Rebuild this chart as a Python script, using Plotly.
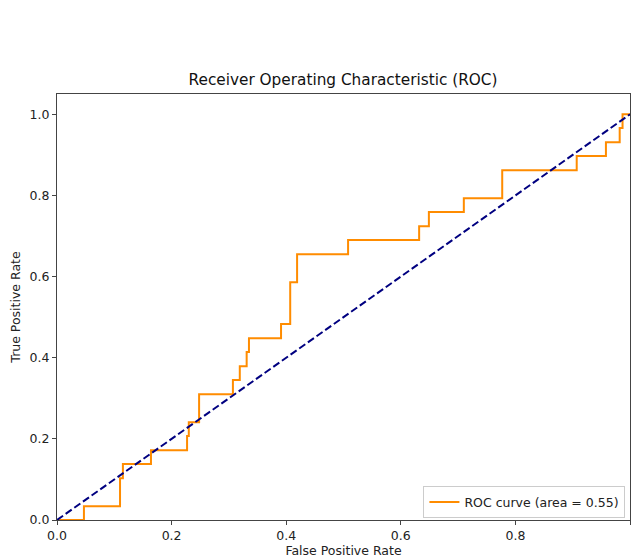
import plotly.graph_objects as go

fpr = [0.0, 0.047, 0.047, 0.110, 0.110, 0.115, 0.115, 0.164, 0.164, 0.227, 0.227, 0.230, 0.230,
       0.248, 0.248, 0.307, 0.307, 0.319, 0.319, 0.331, 0.331, 0.335, 0.335, 0.391, 0.391,
       0.407, 0.407, 0.419, 0.419, 0.508, 0.508, 0.632, 0.632, 0.649, 0.649, 0.710, 0.710,
       0.777, 0.777, 0.907, 0.907, 0.958, 0.958, 0.982, 0.982, 0.987, 0.987, 1.0]
tpr = [0.0, 0.0, 0.034, 0.034, 0.103, 0.103, 0.138, 0.138, 0.172, 0.172, 0.207, 0.207, 0.241,
       0.241, 0.310, 0.310, 0.345, 0.345, 0.379, 0.379, 0.414, 0.414, 0.448, 0.448, 0.483,
       0.483, 0.586, 0.586, 0.655, 0.655, 0.690, 0.690, 0.724, 0.724, 0.759, 0.759, 0.793,
       0.793, 0.862, 0.862, 0.897, 0.897, 0.931, 0.931, 0.966, 0.966, 1.0, 1.0]
roc_auc = 0.55
diag = [0.0, 1.0]
tick_vals = [0.0, 0.2, 0.4, 0.6, 0.8, 1.0]
tick_text = ["0.0", "0.2", "0.4", "0.6", "0.8", "1.0"]

fig = go.Figure()
fig.add_trace(go.Scatter(x=fpr, y=tpr, mode="lines",
                         line=dict(color="darkorange", width=2),
                         name=f"ROC curve (area = {roc_auc:.2f})"))
fig.add_trace(go.Scatter(x=diag, y=diag, mode="lines",
                         line=dict(color="navy", width=2, dash="7.4px,3.2px"),
                         showlegend=False))

axis_common = dict(showgrid=False, zeroline=False, showline=True, mirror=True,
                   linecolor="#444", linewidth=1, ticks="outside", ticklen=4,
                   tickcolor="#444", tickvals=tick_vals, ticktext=tick_text,
                   tickfont=dict(size=12.5, color="#222"), automargin=False)

# page body has an 8px margin, so the figure is sized/offset to compensate
W, H = 631, 550
fig.update_layout(
    width=W, height=H,
    paper_bgcolor="white", plot_bgcolor="white",
    font=dict(family="DejaVu Sans", color="#222"),
    margin=dict(l=49, r=9, t=86, b=38),
    title=dict(text="Receiver Operating Characteristic (ROC)", x=(343 - 8) / W, xanchor="center",
               y=1 - 72 / H, yanchor="middle", font=dict(size=15.3, color="#111")),
    xaxis=dict(range=[0, 1], title=dict(text="False Positive Rate", standoff=4,
                                        font=dict(size=12.5)), **axis_common),
    yaxis=dict(range=[0, 1.05], title=dict(text="True Positive Rate", standoff=8,
                                           font=dict(size=12.5)), **axis_common),
    legend=dict(x=0.992, y=0.004, xanchor="right", yanchor="bottom",
                bgcolor="rgba(255,255,255,0.8)", bordercolor="#ccc", borderwidth=1,
                font=dict(size=12.5, color="#222")),
)

fig.write_html("out.html")
